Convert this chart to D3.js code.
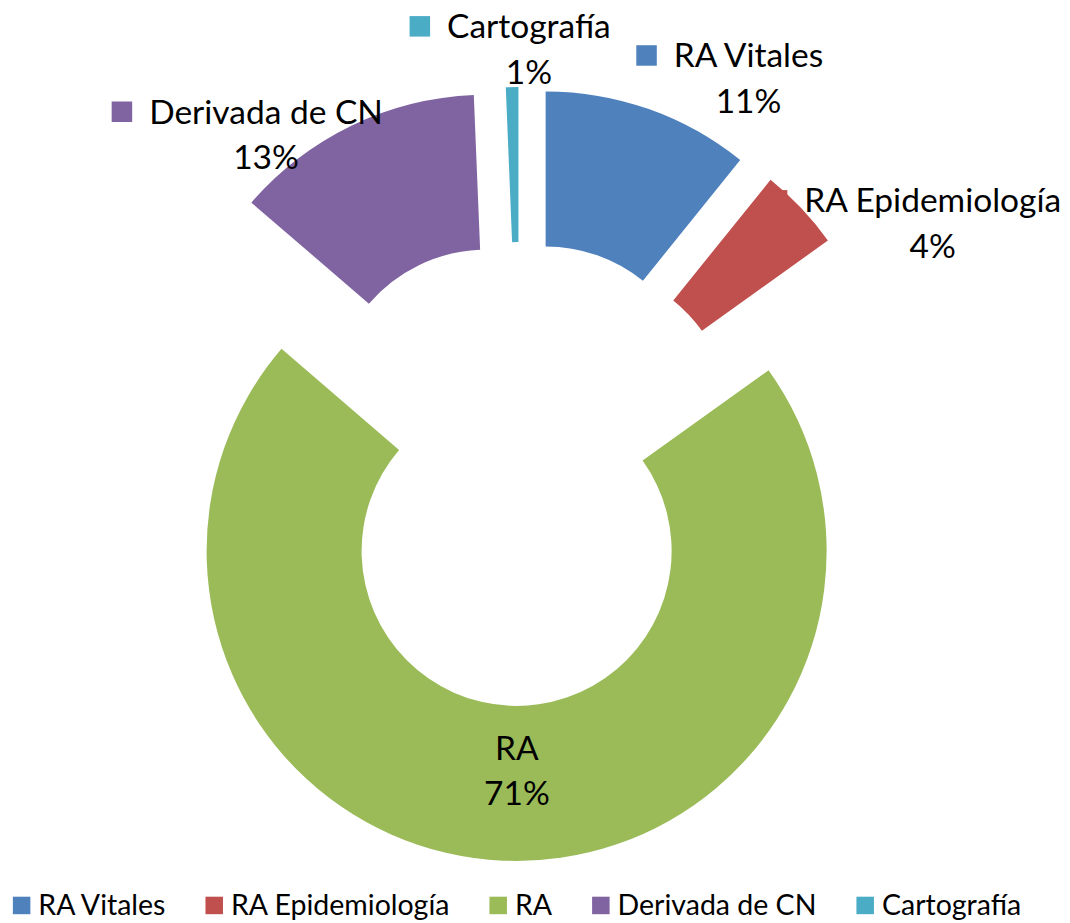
<!DOCTYPE html>
<html><head><meta charset="utf-8">
<script src="https://cdn.jsdelivr.net/npm/d3@7"></script>
<style>body{margin:0;background:#fff} svg{display:block}</style>
</head><body>
<svg id="chart" width="1070" height="923"></svg>
<script>
const categories = ["RA Vitales","RA Epidemiología","RA","Derivada de CN","Cartografía"];
const values = [10.8, 4.3, 71.2, 13.05, 0.65];
const colors = ["#4F81BD","#C0504D","#9BBB59","#8064A2","#4BACC6"];
// label placement: degrees clockwise from 12 o'clock and distance from chart centre
const labelAngles = [30, 58.7, 180.6, 323.2, 1.2];
const labelRadii = [457, 483, 297, 424, 425];

const W = 1070, H = 923, cx = 520, cy = 474, rOuter = 310, rInner = 155, explode = 77;
const FONT = "Lato, 'Open Sans', sans-serif";
const svg = d3.select("#chart");
const total = d3.sum(values);
const data = categories.map((c, i) => ({name: c, value: values[i], color: colors[i], i}));
const pie = d3.pie().sort(null).value(d => d.value).startAngle(0).endAngle(2 * Math.PI);
const arcs = pie(data);
const arc = d3.arc().innerRadius(rInner).outerRadius(rOuter);
const g = svg.append("g").attr("transform", `translate(${cx},${cy})`);
g.selectAll("path.slice").data(arcs).join("path")
  .attr("class", "slice")
  .attr("d", arc)
  .attr("fill", d => d.data.color)
  .attr("transform", d => {
    const m = (d.startAngle + d.endAngle) / 2;
    return `translate(${explode * Math.sin(m)},${-explode * Math.cos(m)})`;
  });

// data labels
const labFS = 33.5, lineGap = 45.5, keySize = 20.5, keyGap = 17;
arcs.forEach((d, i) => {
  const a = labelAngles[i] * Math.PI / 180, r = labelRadii[i];
  const ax = r * Math.sin(a), ay = -r * Math.cos(a);
  const b1 = ay - 11, b2 = b1 + lineGap;
  const lg = g.append("g");
  const t1 = lg.append("text").attr("x", ax).attr("y", b1)
    .attr("text-anchor", "middle").attr("font-family", FONT).attr("font-size", labFS)
    .attr("fill", "#000").text(d.data.name);
  const w = t1.node().getComputedTextLength();
  lg.insert("rect", "text").attr("x", ax - w / 2 - keyGap - keySize).attr("y", b1 - 22)
    .attr("width", keySize).attr("height", keySize).attr("fill", d.data.color);
  lg.append("text").attr("x", ax).attr("y", b2)
    .attr("text-anchor", "middle").attr("font-family", FONT).attr("font-size", labFS)
    .attr("fill", "#000").text(Math.round(d.data.value / total * 100) + "%");
});

// legend
const legFS = 28.5, legKey = 17.5, legKeyGap = 8, legItemGap = 40, legBase = 915, legCenter = 517;
const leg = svg.append("g");
let x = 0;
data.forEach(d => {
  const it = leg.append("g");
  it.append("rect").attr("x", x).attr("y", legBase - 18.3).attr("width", legKey).attr("height", legKey).attr("fill", d.color);
  const t = it.append("text").attr("x", x + legKey + legKeyGap).attr("y", legBase)
    .attr("font-family", FONT).attr("font-size", legFS).attr("fill", "#000").text(d.name);
  x += legKey + legKeyGap + t.node().getComputedTextLength() + legItemGap;
});
const legW = x - legItemGap;
leg.attr("transform", `translate(${legCenter - legW / 2},0)`);
</script>
</body></html>
